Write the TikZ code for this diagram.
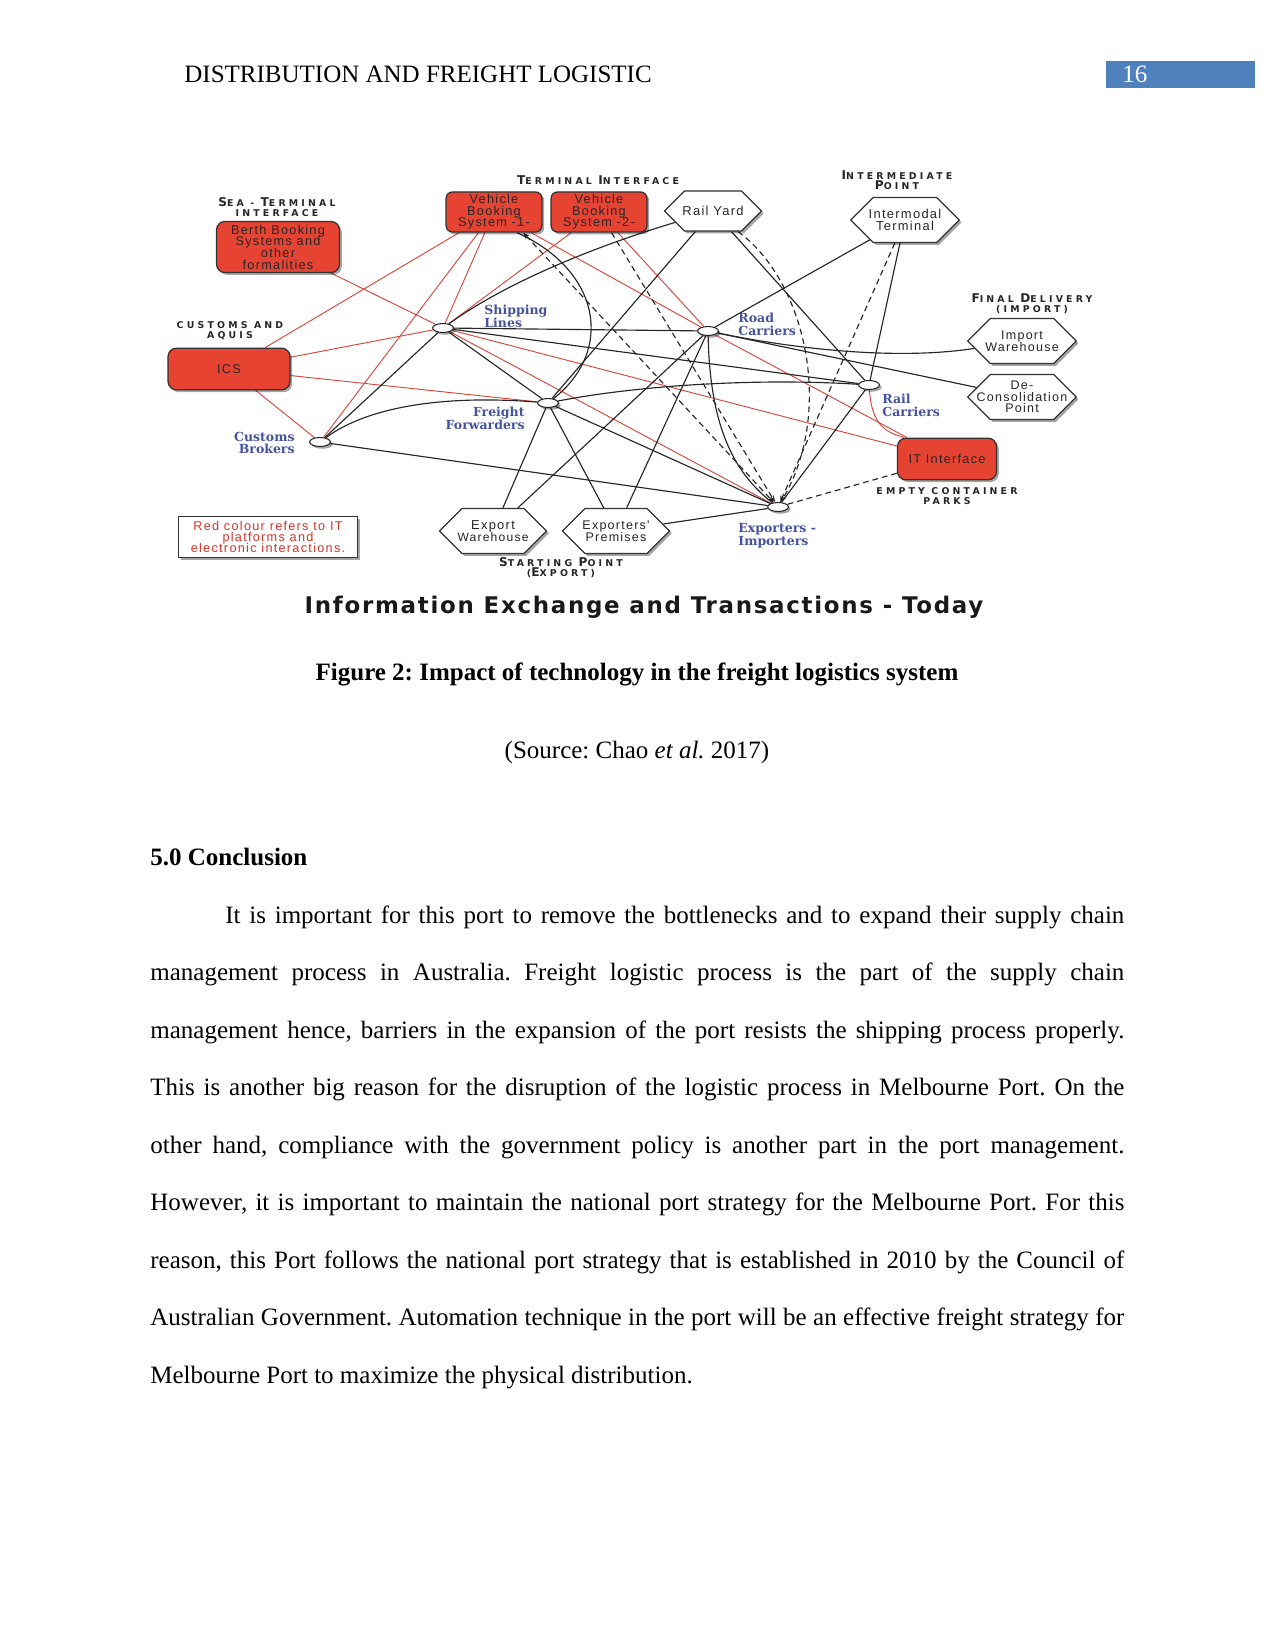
\documentclass[tikz,border=0pt]{standalone}
\usepackage{fontspec}
\setmainfont{Liberation Serif}
\newfontfamily\dfont[LetterSpace=10]{Liberation Sans}
\newfontfamily\cfont[LetterSpace=34]{DejaVu Sans}
\newfontfamily\lfont{DejaVu Serif}
\newfontfamily\tfont[LetterSpace=7.5]{DejaVu Sans}
\usetikzlibrary{shapes.symbols,shapes.geometric,shadows,backgrounds,arrows.meta}
\definecolor{boxred}{RGB}{231,67,50}
\definecolor{linered}{RGB}{214,70,58}
\definecolor{lblue}{RGB}{70,82,158}
\definecolor{numblue}{RGB}{79,129,189}
\definecolor{legred}{RGB}{212,52,42}
\newcommand\Ini[1]{{\fontsize{5.8}{4.8}\selectfont #1}}
\newcommand\tightls{\lineskiplimit=-10pt\relax}
\frenchspacing
\begin{document}
\frenchspacing
\begin{tikzpicture}[x=0.48pt,y=-0.48pt,
  shd/.style={drop shadow={shadow xshift=1.1pt,shadow yshift=-1.1pt,opacity=0.35,fill=black}},
  redbox/.style={draw=black!80, line width=0.6pt, fill=boxred, rounded corners=3pt, shd,
     font=\dfont\fontsize{6.1}{5.6}\selectfont\tightls, align=center, inner sep=0pt, text=black!85},
  hexa/.style={signal, signal to=east and west, draw=black!80, line width=0.6pt, fill=white, shd, inner sep=0pt},
  hexlab/.style={font=\dfont\fontsize{6.2}{5.6}\selectfont\tightls, align=center, inner sep=0pt, text=black!85},
  dot/.style={ellipse, draw=black!85, line width=0.5pt, fill=white, minimum width=10pt, minimum height=4.3pt, inner sep=0pt, shd},
  caplab/.style={font=\cfont\bfseries\fontsize{4.5}{4.8}\selectfont\tightls, align=center, inner sep=0pt, text=black!85},
  blab/.style={font=\lfont\bfseries\fontsize{6}{6.1}\selectfont\tightls, text=lblue, inner sep=0pt},
  rl/.style={draw=linered, line width=0.45pt},
  bl/.style={draw=black!85, line width=0.55pt},
  dl/.style={bl, dash pattern=on 2.8pt off 1.9pt},
  tip/.style={arrows={-Stealth[length=3.2pt,width=2.4pt]}}
]
\useasboundingbox (0,0) rectangle (1275,1650);

% header
\node[anchor=base west, inner sep=0pt, font=\fontsize{12}{14}\selectfont] (hdr) at (184,83) {DISTRIBUTION AND FREIGHT LOGISTIC};
\node[fill=numblue, anchor=north west, minimum width=71.5pt, minimum height=13pt, inner sep=0pt] (pnbox) at (1106,61) {};
\node[anchor=base west, inner sep=0pt, text=white, font=\fontsize{12}{14}\selectfont] (pnum) at (1122,83) {16};

% red boxes
\node[redbox, rounded corners=4pt, minimum width=59pt, minimum height=24.5pt] (bb) at (278,247) {Berth Booking\\Systems and\\other\\formalities};
\node[redbox, minimum width=46pt, minimum height=19.2pt] (vb1) at (494,212) {Vehicle\\Booking\\System -1-};
\node[redbox, minimum width=46pt, minimum height=19.2pt] (vb2) at (599,212) {Vehicle\\Booking\\System -2-};
\node[redbox, rounded corners=4pt, minimum width=58.5pt, minimum height=20pt] (ics) at (229,369) {ICS};
\node[redbox, rounded corners=4pt, minimum width=47.5pt, minimum height=20pt] (iti) at (947,459) {IT Interface};

% hexagons
\node[hexa, minimum width=46.5pt, minimum height=19.2pt, label={[hexlab]center:{Rail Yard}}] (ry) at (713,211) {};
\node[hexa, minimum width=52pt, minimum height=21.6pt, label={[hexlab]center:{Intermodal\\Terminal}}] (it) at (905,220) {};
\node[hexa, minimum width=52pt, minimum height=21.6pt, label={[hexlab, font=\dfont\fontsize{6}{5.6}\selectfont\tightls]center:{Import\\Warehouse}}] (iw) at (1022,341) {};
\node[hexa, minimum width=52pt, minimum height=21.6pt, label={[hexlab, font=\dfont\fontsize{6}{5.4}\selectfont\tightls]center:{De-\\Consolidation\\Point}}] (dc) at (1022,397) {};
\node[hexa, minimum width=51.4pt, minimum height=21.6pt, label={[hexlab]center:{Export\\{\fontsize{5.8}{5.6}\selectfont Warehouse}}}] (ew) at (493,531) {};
\node[hexa, minimum width=51.4pt, minimum height=21.6pt, label={[hexlab, font=\dfont\fontsize{6}{5.6}\selectfont\tightls]center:{Exporters'\\Premises}}] (ep) at (616,531) {};

% small dots
\node[dot] (sl) at (443,328) {};
\node[dot] (rc) at (708,331) {};
\node[dot] (ff) at (548,403) {};
\node[dot] (rac) at (869,385) {};
\node[dot] (cb) at (320,442) {};
\node[dot] (ei) at (778,507) {};

% legend
\node[draw=black!80, line width=0.6pt, fill=white, shd, minimum width=86pt, minimum height=19.7pt, inner sep=0pt,
      font=\dfont\fontsize{6.1}{5.3}\selectfont\tightls, text=legred, align=center] (leg) at (268,537)
      {Red colour refers to IT\\platforms and\\electronic interactions.};

% group labels
\node[caplab] (l1) at (277,207) {\Ini{S}EA - \Ini{T}ERMINAL\\INTERFACE};
\node[caplab] (l2) at (598,180) {\Ini{T}ERMINAL \Ini{I}NTERFACE};
\node[caplab] (l3) at (897,180) {\Ini{I}NTERMEDIATE\\\Ini{P}OINT};
\node[caplab] (l4) at (230,331) {CUSTOMS AND\\AQUIS};
\node[caplab] (l5) at (1032,304) {\Ini{F}INAL \Ini{D}ELIVERY\\(IMPORT)};
\node[caplab] (l6) at (947,496) {EMPTY CONTAINER\\PARKS};
\node[caplab] (l7) at (561,568) {\Ini{S}TARTING \Ini{P}OINT\\(\Ini{E}XPORT)};

% blue labels
\node[blab, anchor=west, align=left] (tsl) at (484,316) {Shipping\\Lines};
\node[blab, anchor=west, align=left] (trc) at (738,324) {Road\\Carriers};
\node[blab, anchor=east, align=right] (tff) at (525,418) {Freight\\Forwarders};
\node[blab, anchor=west, align=left] (trac) at (882,405) {Rail\\Carriers};
\node[blab, anchor=east, align=right] (tcb) at (295,443) {Customs\\Brokers};
\node[blab, anchor=west, align=left] (tei) at (738,536) {Exporters -\\Importers};

% title
\node[font=\tfont\bfseries\fontsize{11}{13}\selectfont, text=black!90, anchor=base, inner sep=0pt] (title) at (644,613)
  {Information Exchange and Transactions - Today};

\begin{scope}[on background layer]
% red (IT) links
\draw[rl] (bb) -- (sl);
\draw[rl] (vb1) -- (ics);
\draw[rl] (vb1) -- (cb);
\draw[rl] (vb1) -- (sl);
\draw[rl] (vb1) -- (rc);
\draw[rl] (vb2) -- (sl);
\draw[rl] (vb2) -- (rc);
\draw[rl] (ics) -- (sl);
\draw[rl] (ics) -- (ff);
\draw[rl] (ics) -- (cb);
\draw[rl] (sl) -- (iti);
\draw[rl] (sl) -- (ei);
\draw[rl] (rc) -- (iti);
\draw[rl] (rac) .. controls (872,425) and (885,432) .. ([xshift=3.5pt]iti.north west);
% black links
\draw[bl] (sl) -- (rc);
\draw[bl] (sl) -- (ff);
\draw[bl] (sl) -- (cb);
\draw[bl] (sl) -- (rac);
\draw[bl] (sl) .. controls (510,280) and (600,245) .. (ry);
\draw[bl] ([xshift=11pt]vb1.south) .. controls (600,270) and (615,350) .. (ff);
\draw[bl] (ry) -- (ff);
\draw[bl] (ry) -- (rac);
\draw[bl] (it) -- (rc);
\draw[bl] (it) -- (rac);
\draw[bl] (rc) .. controls (800,350) and (900,360) .. (iw);
\draw[bl] (rc) -- (dc);
\draw[bl] (rc) -- (ew);
\draw[bl] (rc) -- (ep);
\draw[bl] (rc) .. controls (710,420) and (730,470) .. (ei);
\draw[bl] (ff) -- (ew);
\draw[bl] (ff) -- (ep);
\draw[bl] (ff) -- (ei);
\draw[bl] (ff) .. controls (640,385) and (760,378) .. (rac);
\draw[bl] (cb) .. controls (370,405) and (450,395) .. (ff);
\draw[bl] (cb) -- (ei);
\draw[bl] (ep) -- (ei);
\draw[bl] (rac) -- (ei);
% dashed links
\draw[dl, arrows={Stealth[length=3.2pt,width=2.4pt]-Stealth[length=3.2pt,width=2.4pt]}] ([xshift=14pt]vb1.south) -- (ei);
\draw[dl, tip] (vb2) -- (ei);
\draw[dl, tip] ([xshift=12pt]ry.south) .. controls (805,280) and (835,410) .. (ei);
\draw[dl, tip] (it) -- (ei);
\draw[dl] (iti) -- (ei);
\end{scope}

% captions and text
\node[anchor=base, inner sep=0pt, font=\bfseries\fontsize{12}{14}\selectfont] (cap) at (637,680) {Figure 2: Impact of technology in the freight logistics system};
\node[anchor=base, inner sep=0pt, font=\fontsize{12}{14}\selectfont] (src) at (637,758) {(Source: Chao \textit{et al.} 2017)};
\node[anchor=base west, inner sep=0pt, font=\bfseries\fontsize{12}{14}\selectfont] (sec) at (150,865) {5.0 Conclusion};
\node[anchor=north west, inner sep=0pt, text width=467.5pt, align=justify, font=\fontsize{12}{27.6}\selectfont\frenchspacing] (para) at (150,905)
{\hspace*{36pt}It is important for this port to remove the bottlenecks and to expand their supply chain\linebreak
management process in Australia. Freight logistic process is the part of the supply chain\linebreak
management hence, barriers in the expansion of the port resists the shipping process properly.\linebreak
This is another big reason for the disruption of the logistic process in Melbourne Port. On the\linebreak
other hand, compliance with the government policy is another part in the port management.\linebreak
However, it is important to maintain the national port strategy for the Melbourne Port. For this\linebreak
reason, this Port follows the national port strategy that is established in 2010 by the Council of\linebreak
Australian Government. Automation technique in the port will be an effective freight strategy for\linebreak
Melbourne Port to maximize the physical distribution.};
\end{tikzpicture}
\end{document}
